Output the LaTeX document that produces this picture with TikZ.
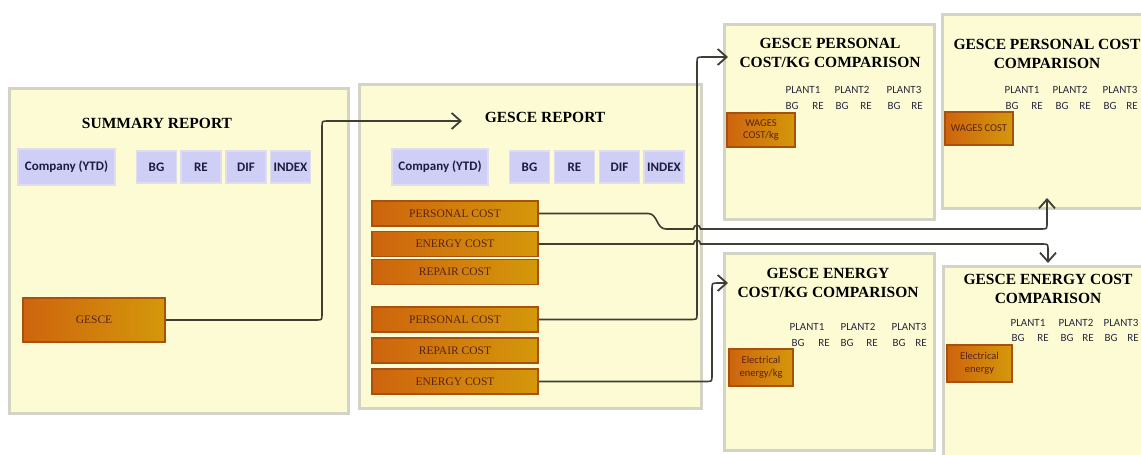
\documentclass[tikz,border=0pt]{standalone}
\usepackage{fontspec}
\setmainfont{Liberation Serif}
\newfontfamily\calfont{Carlito}
\usetikzlibrary{arrows.meta}

\definecolor{panelfill}{RGB}{252,251,212}
\definecolor{paneledge}{RGB}{212,212,198}
\definecolor{boxblue}{RGB}{206,206,246}
\definecolor{boxblueedge}{RGB}{222,222,236}
\definecolor{orangeL}{RGB}{206,100,14}
\definecolor{orangeR}{RGB}{212,152,10}
\definecolor{orangeedge}{RGB}{168,80,14}
\definecolor{orangetext}{RGB}{88,36,22}
\definecolor{navytext}{RGB}{28,28,62}
\definecolor{tabletext}{RGB}{40,40,60}
\definecolor{linecol}{RGB}{62,62,52}

\begin{document}
\begin{tikzpicture}[x=1pt,y=-1pt,
  panel/.style={draw=paneledge, line width=2.5pt, fill=panelfill,
    anchor=north west, inner sep=0pt},
  paneltitle/.style={font=\fontsize{15.5}{19}\selectfont\bfseries,
    align=center, text=black, inner sep=0pt},
  bluebox/.style={draw=boxblueedge, line width=1.2pt, fill=boxblue,
    minimum height=32pt, minimum width=40pt, inner sep=0pt,
    font=\calfont\fontsize{13}{15}\selectfont\bfseries, text=navytext},
  orangebar/.style={draw=orangeedge, line width=1.5pt,
    left color=orangeL, right color=orangeR,
    minimum width=166pt, minimum height=25pt, inner sep=0pt,
    font=\fontsize{11.5}{13}\selectfont, text=orangetext},
  smallbox/.style={draw=orangeedge, line width=1.5pt,
    left color=orangeL, right color=orangeR, inner sep=0pt,
    align=center, font=\calfont\fontsize{10.5}{12.5}\selectfont, text=orangetext},
  tabtext/.style={font=\calfont\fontsize{11}{13}\selectfont, text=tabletext,
    inner sep=0pt},
  conn/.style={draw=linecol, line width=1.6pt,
    -{Straight Barb[length=9pt,width=16pt,line width=1.8pt]}},
]
\useasboundingbox (0,0) rectangle (1141,455);
\clip (0,0) rectangle (1141,455);
\fill[white] (0,0) rectangle (1141,455);

% ---------- panels ----------
\node[panel, minimum width=339pt, minimum height=325pt] (sum) at (8,87) {};
\node[panel, minimum width=342pt, minimum height=324pt] (rep) at (358,83) {};
\node[panel, minimum width=210pt, minimum height=195pt] (pkg) at (723,23) {};
\node[panel, minimum width=219pt, minimum height=194pt] (pc) at (941,13) {};
\node[panel, minimum width=210pt, minimum height=197pt] (ekg) at (723,252) {};
\node[panel, minimum width=218pt, minimum height=215pt] (ec) at (942,265) {};

% ---------- summary report ----------
\node[paneltitle] (sumtitle) at (157,123) {SUMMARY REPORT};
\node[bluebox, minimum width=97pt, minimum height=36pt] (sumco) at (66.5,167) {Company (YTD)};
\node[bluebox] (sumbg) at (156.5,167) {BG};
\node[bluebox] (sumre) at (201,167) {RE};
\node[bluebox] (sumdif) at (246,167) {DIF};
\node[bluebox] (sumidx) at (290.5,167) {INDEX};
\node[orangebar, minimum width=142pt, minimum height=44pt] (gesce) at (94,320) {GESCE};

% ---------- GESCE report ----------
\node[paneltitle] (reptitle) at (545,117) {GESCE REPORT};
\node[bluebox, minimum width=96pt, minimum height=36pt] (repco) at (440,167) {Company (YTD)};
\node[bluebox] (repbg) at (529.5,167) {BG};
\node[bluebox] (repre) at (574.5,167) {RE};
\node[bluebox] (repdif) at (619.5,167) {DIF};
\node[bluebox] (repidx) at (664,167) {INDEX};
\node[orangebar] (pc1) at (455,213.5) {PERSONAL COST};
\node[orangebar] (ec1) at (455,244) {ENERGY COST};
\node[orangebar] (rc1) at (455,272) {REPAIR COST};
\node[orangebar] (pc2) at (455,319.5) {PERSONAL COST};
\node[orangebar] (rc2) at (455,350.5) {REPAIR COST};
\node[orangebar] (ec2) at (455,381.5) {ENERGY COST};

% ---------- personal cost per kg ----------
\node[paneltitle] (pkgtitle) at (830,52.5) {GESCE PERSONAL\\COST/KG COMPARISON};
\foreach \n/\x in {1/803,2/852,3/904}
  \node[tabtext] (pkgp\n) at (\x,90) {PLANT\n};
\foreach \n/\x/\t in {1/792/BG,2/818/RE,3/842/BG,4/866/RE,5/894/BG,6/917/RE}
  \node[tabtext] (pkgc\n) at (\x,106) {\t};
\node[smallbox, minimum width=68pt, minimum height=34pt] (wagkg) at (761,130) {WAGES\\COST/kg};

% ---------- personal cost ----------
\node[paneltitle] (pctitle) at (1047,54) {GESCE PERSONAL COST\\COMPARISON};
\foreach \n/\x in {1/1022,2/1070,3/1120}
  \node[tabtext] (pcp\n) at (\x,90) {PLANT\n};
\foreach \n/\x/\t in {1/1012/BG,2/1037/RE,3/1062/BG,4/1085/RE,5/1110/BG,6/1132/RE}
  \node[tabtext] (pcc\n) at (\x,106) {\t};
\node[smallbox, minimum width=68pt, minimum height=33pt] (wag) at (979,128.5) {WAGES COST};

% ---------- energy cost per kg ----------
\node[paneltitle] (ekgtitle) at (828,283) {GESCE ENERGY\\COST/KG COMPARISON};
\foreach \n/\x in {1/807,2/858,3/909}
  \node[tabtext] (ekgp\n) at (\x,327) {PLANT\n};
\foreach \n/\x/\t in {1/798/BG,2/824/RE,3/847/BG,4/872/RE,5/899/BG,6/921/RE}
  \node[tabtext] (ekgc\n) at (\x,343) {\t};
\node[smallbox, minimum width=64pt, minimum height=37pt] (elkg) at (761,367.5) {Electrical\\energy/kg};

% ---------- energy cost ----------
\node[paneltitle] (ectitle) at (1048,288.5) {GESCE ENERGY COST\\COMPARISON};
\foreach \n/\x in {1/1028,2/1076,3/1121}
  \node[tabtext] (ecp\n) at (\x,323) {PLANT\n};
\foreach \n/\x/\t in {1/1018/BG,2/1043/RE,3/1067/BG,4/1088/RE,5/1111/BG,6/1133/RE}
  \node[tabtext] (ecc\n) at (\x,338) {\t};
\node[smallbox, minimum width=65pt, minimum height=37pt] (el) at (979.5,363.5) {Electrical\\energy};

% ---------- arrow ends ----------
\coordinate (t0) at (462,121);
\coordinate (t1) at (1047,198);
\coordinate (t2) at (1048,263);
\coordinate (t3) at (728,57);
\coordinate (t4) at (728,283);

% ---------- connectors ----------
\draw[conn] (gesce.east) -- (316,320) .. controls (322,320) .. (322,314)
  -- (322,127) .. controls (322,121) .. (328,121) -- (t0);

\draw[conn] (pc1.east) -- (648,213.5) .. controls (658,213.5) and (656,229) .. (666,229)
  -- (693.5,229) .. controls (693.5,224) and (700.5,224) .. (700.5,229)
  -- (1041,229) .. controls (1047,229) .. (1047,223) -- (t1);

\draw[conn] (ec1.east) -- (693.5,244) .. controls (693.5,239) and (700.5,239) .. (700.5,244)
  -- (1042,244) .. controls (1048,244) .. (1048,250) -- (t2);

\draw[conn] (pc2.east) -- (691,319.5) .. controls (697,319.5) .. (697,313.5)
  -- (697,63) .. controls (697,57) .. (703,57) -- (t3);

\draw[conn] (ec2.east) -- (706,381.5) .. controls (712,381.5) .. (712,375.5)
  -- (712,289) .. controls (712,283) .. (718,283) -- (t4);
\end{tikzpicture}
\end{document}
